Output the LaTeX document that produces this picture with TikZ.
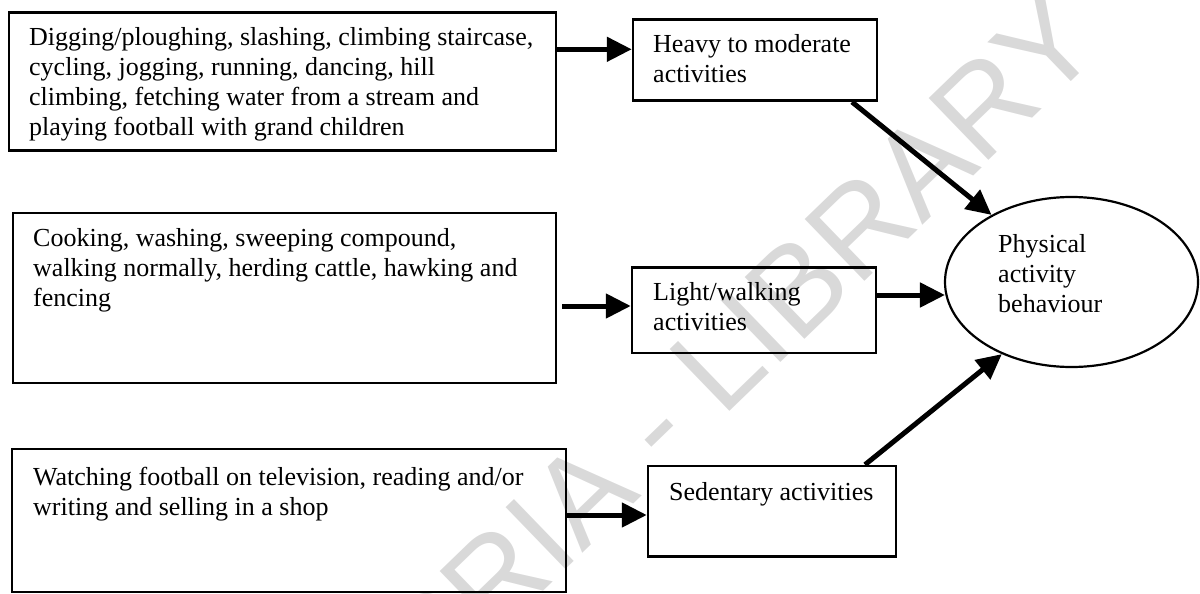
\documentclass[tikz,border=0pt]{standalone}
\usepackage{fontspec}
\setmainfont{Liberation Serif}
\newfontfamily\wmfont{Liberation Sans}
\usetikzlibrary{arrows.meta,shapes.geometric,calc}
\newcommand\fstxt{\fontsize{26}{30}\selectfont}
\tikzset{
 box/.style={draw, line width=2.5pt, inner sep=0pt},
 txt/.style={anchor=base west, align=left, inner sep=0pt, font=\fstxt},
 arr/.style={line width=5pt, -{Triangle[length=25pt,width=24pt]}},
 wm/.style={text=black!15, font=\wmfont\fontsize{125}{125}\selectfont, inner sep=0pt}
}
\begin{document}
\begin{tikzpicture}[x=1pt,y=-1pt]
\useasboundingbox (0,0) rectangle (1200,594);
\node[wm, rotate=44, anchor=base] (wm) at (639,499) {CODESRIA - LIBRARY};
% boxes
\node[box, minimum width=547pt, minimum height=138pt] (b1) at (282.5,81.6) {};
\node[box, minimum width=543pt, minimum height=170pt] (b2) at (284.5,297.8) {};
\node[box, minimum width=554pt, minimum height=143pt] (b3) at (289,520.5) {};
\node[box, minimum width=244pt, minimum height=81.4pt] (h) at (755,60) {};
\node[box, minimum width=244pt, minimum height=85.5pt] (l) at (754,310.3) {};
\node[box, minimum width=248pt, minimum height=90.7pt] (s) at (772,511.3) {};
\node[draw, line width=2.2pt, ellipse, inner sep=0pt, minimum width=253pt, minimum height=170pt] (e) at (1071.5,282) {};
% texts (anchored at the baseline of the last line)
\node[txt] (t1) at (29,135) {Digging/ploughing, slashing, climbing staircase,\\cycling, jogging, running, dancing, hill\\climbing, fetching water from a stream and\\playing football with grand children};
\node[txt] (t2) at (33,306) {Cooking, washing, sweeping compound,\\walking normally, herding cattle, hawking and\\fencing};
\node[txt] (t3) at (33,515) {Watching football on television, reading and/or\\writing and selling in a shop};
\node[txt] (th) at (653,83) {Heavy to moderate\\activities};
\node[txt] (tl) at (653,330) {Light/walking\\activities};
\node[txt] (ts) at (669,500) {Sedentary activities};
\node[txt] (te) at (998,312) {Physical\\activity\\behaviour};
% arrows
\draw[arr] (b1.east |- 0,49.3) -- (h.west |- 0,49.3);
\draw[arr] ([xshift=5pt]b2.east |- 0,306) -- (l.west |- 0,306);
\draw[arr] (b3.east |- 0,515) -- (s.west |- 0,515);
\draw[arr] (h.south -| 852,0) -- (e.140.7);
\draw[arr] (l.east |- 0,295) -- (e.185.9 |- 0,295);
\draw[arr] (s.north -| 865,0) -- (e.226.4);
\end{tikzpicture}
\end{document}
